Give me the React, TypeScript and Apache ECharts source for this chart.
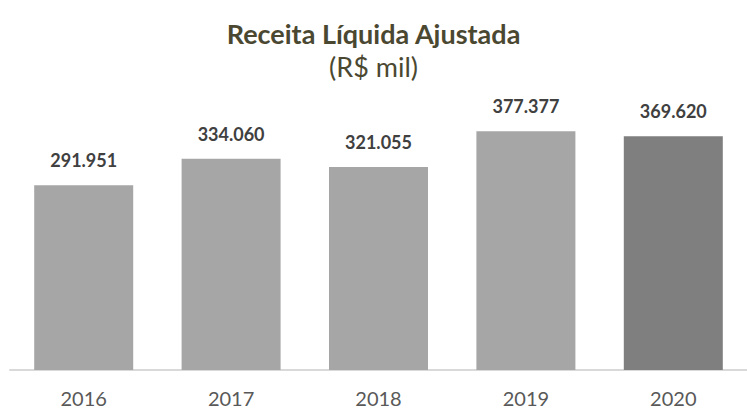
import React, { useEffect, useRef } from "react";
import * as echarts from "echarts";

const categories = ["2016", "2017", "2018", "2019", "2020"];
const values = [291951, 334060, 321055, 377377, 369620];
const barColors = ["#a6a6a6", "#a6a6a6", "#a6a6a6", "#a6a6a6", "#7f7f7f"];
const titleText = "Receita Líquida Ajustada";
const subtitleText = "(R$ mil)";

const fmt = (v: number) => {
  const s = Math.round(v).toString();
  return s.replace(/\B(?=(\d{3})+(?!\d))/g, ".");
};

export default function App() {
  const ref = useRef<HTMLDivElement>(null);
  useEffect(() => {
    if (!ref.current) return;
    document.body.style.margin = "0";
    document.body.style.overflow = "hidden";
    const chart = echarts.init(ref.current, undefined, { renderer: "svg" });
    chart.setOption({
      animation: false,
      backgroundColor: "#ffffff",
      title: [
        {
          text: titleText,
          left: "center",
          top: 15,
          textStyle: { fontFamily: "Lato", fontWeight: "bold", fontSize: 27, color: "#4b4832" },
        },
        {
          text: subtitleText,
          left: "center",
          top: 48,
          textStyle: { fontFamily: "Lato", fontWeight: "normal", fontSize: 27, color: "#4b4832" },
        },
      ],
      grid: { left: 10, width: 741, top: 117, bottom: 40, containLabel: false },
      xAxis: {
        type: "category",
        data: categories,
        axisLine: { show: true, lineStyle: { color: "#d9d9d9", width: 2 } },
        axisTick: { show: false },
        axisLabel: {
          fontFamily: "Lato",
          fontSize: 20,
          lineHeight: 14,
          color: "#595959",
          margin: 21,
        },
      },
      yAxis: {
        type: "value",
        min: 0,
        max: 400000,
        show: false,
        splitLine: { show: false },
      },
      series: [
        {
          type: "bar",
          barWidth: 99,
          data: values.map((v, i) => ({ value: v, itemStyle: { color: barColors[i] } })),
          label: {
            show: true,
            position: "top",
            distance: 16,
            formatter: (p: any) => fmt(p.value),
            fontFamily: "Lato",
            fontWeight: "bold",
            fontSize: 18,
            color: "#404040",
          },
        },
      ],
    });
    return () => chart.dispose();
  }, []);
  return (
    <div
      ref={ref}
      style={{ position: "fixed", left: 0, top: 0, width: 747, height: 410 }}
    />
  );
}
